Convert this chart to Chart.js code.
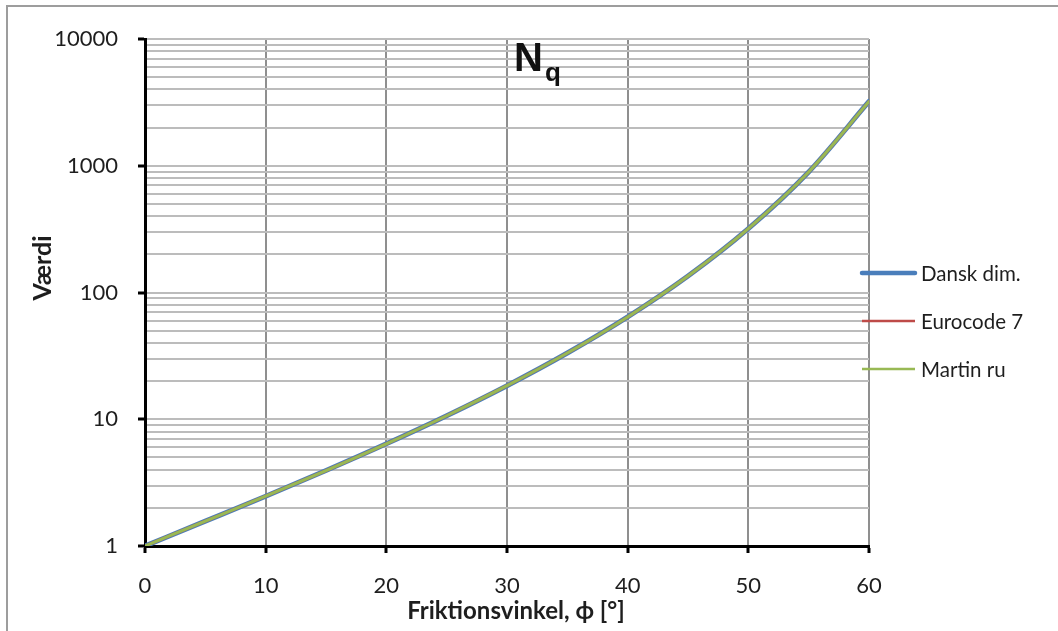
<!DOCTYPE html>
<html>
<head>
<meta charset="utf-8">
<script src="https://cdn.jsdelivr.net/npm/chart.js@4"></script>
<style>
  html, body { margin: 0; padding: 0; background: #fff; }
  #wrap { width: 1058px; height: 631px; position: relative; }
</style>
</head>
<body>
<div id="wrap"><canvas id="c" width="1058" height="631"></canvas></div>
<script>
// ---- data ----
const frictionAngles = [0, 5, 10, 15, 20, 25, 30, 35, 40, 45, 50, 55, 60];
const danskDim   = [1.00, 1.57, 2.47, 3.94, 6.40, 10.66, 18.40, 33.30, 64.20, 134.9, 319.1, 893.5, 3214];
const eurocode7  = [1.00, 1.57, 2.47, 3.94, 6.40, 10.66, 18.40, 33.30, 64.20, 134.9, 319.1, 893.5, 3214];
const martinRu   = [1.00, 1.57, 2.47, 3.94, 6.40, 10.66, 18.40, 33.30, 64.20, 134.9, 319.1, 893.5, 3214];
const seriesNames = ['Dansk dim.', 'Eurocode 7', 'Martin ru'];
const yMajorTicks = [1, 10, 100, 1000, 10000];
const xTicks = [0, 10, 20, 30, 40, 50, 60];

const colors = ['#4a7ebb', '#be4b48', '#98b954'];
const widths = [5, 3, 3];
const legendWidths = [4.5, 2.5, 2.5];

function toPts(arr) { return frictionAngles.map((x, i) => ({x: x, y: arr[i]})); }

const FONT = 'Lato, "Open Sans", "Liberation Sans", sans-serif';

const decor = {
  id: 'decor',
  beforeDraw(chart) {
    const ctx = chart.ctx;
    ctx.save();
    ctx.fillStyle = '#fff';
    ctx.fillRect(0, 0, chart.width, chart.height);
    ctx.strokeStyle = '#9d9d9d';
    ctx.lineWidth = 2;
    ctx.strokeRect(7, 6, 2000, 2000);
    ctx.restore();
  },
  afterDraw(chart) {
    const ctx = chart.ctx;
    ctx.save();
    // Title N_q
    ctx.fillStyle = '#111';
    ctx.textBaseline = 'alphabetic';
    ctx.textAlign = 'left';
    ctx.font = 'bold 40px "Liberation Sans", Arial, sans-serif';
    ctx.fillText('N', 514, 71);
    ctx.font = 'bold 26px "Liberation Sans", Arial, sans-serif';
    ctx.fillText('q', 545, 81);

    // axis titles
    ctx.fillStyle = '#1e1e1e';
    ctx.font = 'bold 24px ' + FONT;
    ctx.textAlign = 'center';
    ctx.textBaseline = 'middle';
    ctx.fillText('Friktionsvinkel, \u03D5 [\u00B0]', 516, 611);
    ctx.save();
    ctx.translate(43, 268);
    ctx.rotate(-Math.PI / 2);
    ctx.font = 'bold 25px ' + FONT;
    ctx.fillText('V\u00E6rdi', 0, 0);
    ctx.restore();

    // legend
    const ys = [273, 321, 369];
    ctx.font = '20.5px ' + FONT;
    ctx.textAlign = 'left';
    ctx.textBaseline = 'middle';
    chart.data.datasets.forEach((ds, i) => {
      ctx.strokeStyle = ds.borderColor;
      ctx.lineWidth = legendWidths[i];
      ctx.lineCap = i === 0 ? 'round' : 'butt';
      ctx.beginPath();
      ctx.moveTo(862, ys[i]);
      ctx.lineTo(915, ys[i]);
      ctx.stroke();
      ctx.fillStyle = '#1e1e1e';
      ctx.fillText(ds.label, 921, ys[i] + 1);
    });
    ctx.restore();
  }
};

new Chart(document.getElementById('c'), {
  type: 'line',
  data: {
    datasets: [
      { label: seriesNames[0], data: toPts(danskDim), borderColor: colors[0], backgroundColor: colors[0], borderWidth: widths[0], order: 3 },
      { label: seriesNames[1], data: toPts(eurocode7), borderColor: colors[1], backgroundColor: colors[1], borderWidth: widths[1], order: 2 },
      { label: seriesNames[2], data: toPts(martinRu), borderColor: colors[2], backgroundColor: colors[2], borderWidth: widths[2], order: 1 }
    ]
  },
  options: {
    responsive: false,
    animation: false,
    devicePixelRatio: 1,
    layout: { padding: { left: 0, top: 39, right: 189, bottom: 0 } },
    elements: { point: { radius: 0 }, line: { cubicInterpolationMode: 'monotone', borderCapStyle: 'round' } },
    plugins: { legend: { display: false }, tooltip: { enabled: false }, title: { display: false } },
    scales: {
      x: {
        type: 'linear',
        min: 0, max: 60,
        afterFit(s) { s.height = 85; },
        afterBuildTicks(s) { s.ticks = xTicks.map(v => ({value: v})); },
        ticks: { font: { family: FONT, size: 22 }, color: '#1e1e1e', padding: 20, maxRotation: 0 },
        grid: { color: '#8f8f8f', lineWidth: 2, tickColor: '#000', tickLength: 7, tickWidth: 3 },
        border: { color: '#000', width: 3 }
      },
      y: {
        type: 'logarithmic',
        min: 1, max: 10000,
        afterFit(s) { s.width = 145; },
        afterBuildTicks(s) {
          const t = [];
          for (let i = 0; i < yMajorTicks.length; i++) {
            const base = yMajorTicks[i];
            t.push({value: base, major: true});
            if (i < yMajorTicks.length - 1) {
              for (let k = 2; k <= 9; k++) t.push({value: base * k, major: false});
            }
          }
          s.ticks = t;
        },
        ticks: {
          font: { family: FONT, size: 22 }, color: '#1e1e1e', padding: 20,
          autoSkip: false,
          callback: (v) => yMajorTicks.includes(v) ? String(v) : ''
        },
        grid: {
          color: '#bcbcbc', lineWidth: 2, tickLength: 7, tickWidth: 3,
          tickColor: (c) => (c.tick && yMajorTicks.includes(c.tick.value)) ? '#000' : 'rgba(0,0,0,0)'
        },
        border: { color: '#000', width: 3 }
      }
    }
  },
  plugins: [decor]
});
</script>
</body>
</html>
